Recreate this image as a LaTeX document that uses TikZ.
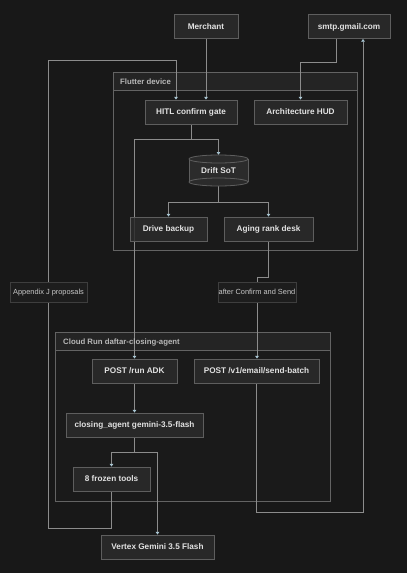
\documentclass[tikz,border=0pt]{standalone}
\usepackage{fontspec}
\setmainfont{Liberation Sans}
\usetikzlibrary{arrows.meta,calc}
\definecolor{bgc}{HTML}{181818}
\definecolor{nodefill}{HTML}{2B2B2B}
\definecolor{nodeline}{HTML}{5E5E5E}
\definecolor{txtc}{HTML}{E2E2E2}
\definecolor{labtxt}{HTML}{C8C8C8}
\definecolor{labfill}{HTML}{1E1E1E}
\definecolor{labline}{HTML}{3E3E3E}
\definecolor{linec}{HTML}{8C8C8C}
\definecolor{arrowc}{HTML}{A9C6D3}
\definecolor{clfill}{HTML}{1A1A1A}
\definecolor{clhead}{HTML}{242424}
\definecolor{clline}{HTML}{636363}
\definecolor{cltxt}{HTML}{B8B8B8}
\pgfdeclarelayer{bg}
\pgfdeclarelayer{edges}
\pgfsetlayers{bg,edges,main}
\tikzset{
  box/.style={draw=nodeline, line width=0.8pt, fill=nodefill, fill opacity=0.85, text opacity=1,
    text=txtc, font=\fontsize{8.2}{9}\selectfont\bfseries, inner sep=0pt, minimum height=24pt,
    text height=6pt, text depth=0.5pt},
  lab/.style={draw=labline, line width=0.8pt, fill=labfill, fill opacity=0.9, text opacity=1,
    text=labtxt, font=\fontsize{7.4}{9}\selectfont, inner sep=0pt, minimum height=20pt,
    text height=5.4pt, text depth=0.6pt},
  conn/.style={draw=linec, line width=0.8pt},
  arr/.style={conn, -{Triangle[width=3.6pt,length=2.8pt,color=arrowc,fill=arrowc]}},
  cltitle/.style={text=cltxt, font=\fontsize{7.8}{9}\selectfont\bfseries, anchor=west, inner sep=0pt,
    text height=5.7pt, text depth=0.6pt},
  clbox/.style={draw=clline, line width=0.8pt, fill=clfill},
  clhd/.style={draw=clline, line width=0.8pt, fill=clhead}
}
\begin{document}
\begin{tikzpicture}[x=1pt,y=-1pt]
\useasboundingbox (0,0) rectangle (407,573);

% background and clusters
\begin{pgfonlayer}{bg}
\fill[bgc] (0,0) rectangle (407,573);
\draw[clbox] (113,72) rectangle (357,250);
\draw[clhd] (113,72) rectangle (357,90);
\draw[clbox] (55,332) rectangle (330,501);
\draw[clhd] (55,332) rectangle (330,350);
\end{pgfonlayer}
\node[cltitle] (fluttertitle) at (120,81.5) {Flutter device};
\node[cltitle] (cloudtitle) at (63,341.5) {Cloud Run daftar-closing-agent};

% nodes
\node[box, minimum width=64pt] (merchant) at (206,26.5) {Merchant};
\node[box, minimum width=82pt] (smtp) at (349,26.5) {smtp.gmail.com};
\node[box, minimum width=92pt] (hitl) at (191,112) {HITL confirm gate};
\node[box, minimum width=93pt] (hud) at (300.5,112) {Architecture HUD};
% cylinder
\fill[nodefill] (189,159) rectangle (248,182);
\draw[draw=nodeline, line width=0.8pt, fill=nodefill] (218.5,182) ellipse [x radius=29.5, y radius=4];
\draw[draw=nodeline, line width=0.8pt] (189,159) -- (189,182) (248,159) -- (248,182);
\draw[draw=nodeline, line width=0.8pt, fill=nodefill] (218.5,159) ellipse [x radius=29.5, y radius=4];
\node[inner sep=0pt, minimum width=59pt, minimum height=31pt, text=txtc,
  text height=6pt, text depth=0.5pt,
  font=\fontsize{8.2}{9}\selectfont\bfseries] (drift) at (218.5,170.5) {Drift SoT};
\node[box, minimum width=77pt] (drive) at (168.5,229) {Drive backup};
\node[box, minimum width=89pt] (aging) at (268.5,229) {Aging rank desk};
\node[lab, minimum width=77pt] (appx) at (48.5,292) {Appendix J proposals};
\node[lab, minimum width=78pt] (after) at (257,292) {after Confirm and Send};
\node[box, minimum width=85pt] (postrun) at (134.5,371) {POST /run ADK};
\node[box, minimum width=125pt] (postemail) at (256.5,371) {POST /v1/email/send-batch};
\node[box, minimum width=137pt] (closing) at (134.5,425) {closing\_agent gemini-3.5-flash};
\node[box, minimum width=77pt] (tools) at (111.5,479) {8 frozen tools};
\node[box, minimum width=113pt] (vertex) at (157.5,547) {Vertex Gemini 3.5 Flash};

% edges
\begin{pgfonlayer}{edges}
\draw[arr] (merchant.south) -- (merchant.south |- hitl.north);
\draw[arr] ([xshift=-13pt]smtp.south) -- ++(0,23) -| (hud.north);
\draw[arr] (hitl.south) -- ++(0,15) -| (postrun.north);
\draw[arr] (hitl.south) -- ++(0,15) -| (drift.north);
\draw[arr] (drift.south) -- ++(0,16) -| (drive.north);
\draw[arr] (drift.south) -- ++(0,16) -| (aging.north);
\draw[conn] (aging.south) -- ++(0,36) -| (after.north);
\draw[arr] (after.south) -- (after.south |- postemail.north);
\draw[arr] (postrun.south) -- (closing.north);
\draw[arr] (closing.south) -- ++(0,15) -| (tools.north);
\draw[arr] (closing.south) -- ++(0,15) -| (vertex.north);
\draw[conn] (tools.south) -- ++(0,37) -| (appx.south);
\draw[arr] (appx.north) -- ++(0,-221) -| ([xshift=-15pt]hitl.north);
\draw[arr] (postemail.south) -- ++(0,129) -| ([xshift=14pt]smtp.south);
\end{pgfonlayer}
\end{tikzpicture}
\end{document}
